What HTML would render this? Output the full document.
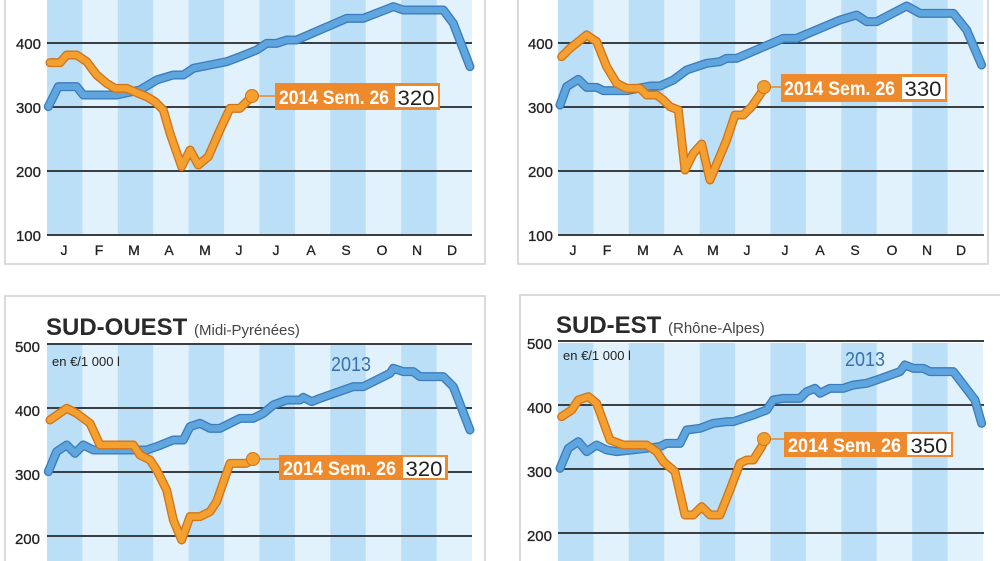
<!DOCTYPE html>
<html><head><meta charset="utf-8"><style>
html,body{margin:0;padding:0;background:#fff;width:1000px;height:561px;overflow:hidden}
svg{display:block}
text{font-family:"Liberation Sans",sans-serif}
.cond{font-family:"Liberation Sans Narrow","Liberation Sans",sans-serif;font-weight:bold}
</style></head><body>
<svg width="1000" height="561" viewBox="0 0 1000 561" xmlns="http://www.w3.org/2000/svg">
<defs>
<g id="stripesTop">
<rect x="0" y="0" width="425" height="235" fill="#e2f2fc"/>
<rect x="0" y="0" width="35.4" height="235" fill="#badff6"/>
<rect x="70.8" y="0" width="35.4" height="235" fill="#badff6"/>
<rect x="141.7" y="0" width="35.4" height="235" fill="#badff6"/>
<rect x="212.5" y="0" width="35.4" height="235" fill="#badff6"/>
<rect x="283.3" y="0" width="35.4" height="235" fill="#badff6"/>
<rect x="354.2" y="0" width="35.4" height="235" fill="#badff6"/>
</g>
<g id="stripesBot">
<rect x="0" y="0" width="425" height="220" fill="#e2f2fc"/>
<rect x="0" y="0" width="35.4" height="220" fill="#badff6"/>
<rect x="70.8" y="0" width="35.4" height="220" fill="#badff6"/>
<rect x="141.7" y="0" width="35.4" height="220" fill="#badff6"/>
<rect x="212.5" y="0" width="35.4" height="220" fill="#badff6"/>
<rect x="283.3" y="0" width="35.4" height="220" fill="#badff6"/>
<rect x="354.2" y="0" width="35.4" height="220" fill="#badff6"/>
</g>
</defs>

<rect x="5" y="-5" width="480" height="269" fill="#fff" stroke="#cfcfcf" stroke-width="1.5"/>
<rect x="518" y="-5" width="470" height="269" fill="#fff" stroke="#cfcfcf" stroke-width="1.5"/>
<rect x="5" y="296" width="480" height="280" fill="#fff" stroke="#cfcfcf" stroke-width="1.5"/>
<rect x="520" y="295" width="490" height="280" fill="#fff" stroke="#cfcfcf" stroke-width="1.5"/>

<use href="#stripesTop" x="47" y="0"/>
<use href="#stripesTop" x="558" y="0"/>
<use href="#stripesBot" x="47" y="343"/>
<use href="#stripesBot" x="558" y="343"/>

<g stroke="#3a3f44" stroke-width="2">
<line x1="47" x2="472" y1="43" y2="43"/><line x1="47" x2="472" y1="107" y2="107"/><line x1="47" x2="472" y1="171" y2="171"/><line x1="47" x2="472" y1="235" y2="235"/>
<line x1="558" x2="984" y1="43" y2="43"/><line x1="558" x2="984" y1="107" y2="107"/><line x1="558" x2="984" y1="171" y2="171"/><line x1="558" x2="984" y1="235" y2="235"/>
<line x1="47" x2="472" y1="344" y2="344"/><line x1="47" x2="472" y1="408" y2="408"/><line x1="47" x2="472" y1="472" y2="472"/><line x1="47" x2="472" y1="536" y2="536"/>
<line x1="558" x2="984" y1="341" y2="341"/><line x1="558" x2="984" y1="405" y2="405"/><line x1="558" x2="984" y1="469" y2="469"/><line x1="558" x2="984" y1="533" y2="533"/>
</g>

<g font-size="15" fill="#222" text-anchor="end" stroke="#222" stroke-width="0.3">
<text x="41" y="49">400</text><text x="41" y="113">300</text><text x="41" y="177">200</text><text x="41" y="241">100</text>
<text x="553" y="49">400</text><text x="553" y="113">300</text><text x="553" y="177">200</text><text x="553" y="241">100</text>
<text x="40" y="352">500</text><text x="40" y="416">400</text><text x="40" y="480">300</text><text x="40" y="544">200</text>
<text x="552" y="349">500</text><text x="552" y="413">400</text><text x="552" y="477">300</text><text x="552" y="541">200</text>
</g>

<g font-size="14" fill="#222" text-anchor="middle" stroke="#222" stroke-width="0.3">
<text x="64" y="255">J</text><text x="99" y="255">F</text><text x="134" y="255">M</text><text x="169" y="255">A</text><text x="205" y="255">M</text><text x="239" y="255">J</text><text x="276" y="255">J</text><text x="311" y="255">A</text><text x="346" y="255">S</text><text x="382" y="255">O</text><text x="417" y="255">N</text><text x="452" y="255">D</text>
<text x="573" y="255">J</text><text x="607" y="255">F</text><text x="643" y="255">M</text><text x="678" y="255">A</text><text x="713" y="255">M</text><text x="747" y="255">J</text><text x="785" y="255">J</text><text x="820" y="255">A</text><text x="855" y="255">S</text><text x="892" y="255">O</text><text x="927" y="255">N</text><text x="961" y="255">D</text>
</g>

<text x="46" y="335" font-size="24" font-weight="bold" fill="#2a2a2a">SUD-OUEST <tspan font-size="15" font-weight="normal" fill="#444">(Midi-Pyrénées)</tspan></text>
<text x="556" y="333" font-size="24" font-weight="bold" fill="#2a2a2a">SUD-EST <tspan font-size="15" font-weight="normal" fill="#444">(Rhône-Alpes)</tspan></text>
<text x="52" y="366" font-size="13" fill="#222">en €/1 000 l</text>
<text x="563" y="360" font-size="13" fill="#222">en €/1 000 l</text>
<text x="331" y="371" font-size="20" fill="#3a6fae" textLength="40" lengthAdjust="spacingAndGlyphs">2013</text>
<text x="845" y="366" font-size="20" fill="#3a6fae" textLength="40" lengthAdjust="spacingAndGlyphs">2013</text>

<g fill="none" stroke-linejoin="round" stroke-linecap="round">
<g transform="translate(0,0) scale(0.3333)">
<polyline stroke="#3c7cbc" stroke-width="27" points="145,320 175,260 230,260 250,285 350,285 420,270 470,240 520,225 550,225 580,205 630,195 680,185 720,170 770,150 800,130 830,130 860,120 890,120 1040,55 1090,55 1180,20 1210,30 1330,30 1360,70 1410,200"/>
<polyline stroke="#5fa5de" stroke-width="19" points="145,320 175,260 230,260 250,285 350,285 420,270 470,240 520,225 550,225 580,205 630,195 680,185 720,170 770,150 800,130 830,130 860,120 890,120 1040,55 1090,55 1180,20 1210,30 1330,30 1360,70 1410,200"/>
<polyline stroke="#d27318" stroke-width="27" points="150,188 180,188 200,165 230,165 260,185 290,225 320,250 345,265 380,265 410,278 440,290 465,305 490,330 510,400 545,500 570,450 595,495 625,470 660,390 690,325 720,325 755,290"/>
<polyline stroke="#f4a030" stroke-width="19" points="150,188 180,188 200,165 230,165 260,185 290,225 320,250 345,265 380,265 410,278 440,290 465,305 490,330 510,400 545,500 570,450 595,495 625,470 660,390 690,325 720,325 755,290"/>
</g>
<g transform="translate(500,0) scale(0.3333)">
<polyline stroke="#3c7cbc" stroke-width="27" points="180,315 200,260 235,238 260,262 290,262 310,272 380,272 450,258 480,258 520,240 560,210 620,190 660,185 680,175 710,175 780,145 850,115 890,115 1020,60 1070,45 1100,65 1130,65 1220,18 1260,40 1360,40 1400,90 1445,195"/>
<polyline stroke="#5fa5de" stroke-width="19" points="180,315 200,260 235,238 260,262 290,262 310,272 380,272 450,258 480,258 520,240 560,210 620,190 660,185 680,175 710,175 780,145 850,115 890,115 1020,60 1070,45 1100,65 1130,65 1220,18 1260,40 1360,40 1400,90 1445,195"/>
<polyline stroke="#d27318" stroke-width="27" points="185,170 210,145 260,105 290,125 320,200 350,250 380,265 420,265 440,285 470,285 490,300 510,320 535,330 555,510 580,460 605,432 630,540 680,420 705,345 730,345 755,320 795,262"/>
<polyline stroke="#f4a030" stroke-width="19" points="185,170 210,145 260,105 290,125 320,200 350,250 380,265 420,265 440,285 470,285 490,300 510,320 535,330 555,510 580,460 605,432 630,540 680,420 705,345 730,345 755,320 795,262"/>
</g>
<g transform="translate(0,280) scale(0.3333)">
<polyline stroke="#3c7cbc" stroke-width="27" points="145,575 170,515 200,495 225,520 250,495 280,510 440,510 470,500 520,480 550,480 570,440 600,430 630,445 660,445 720,415 760,415 790,400 820,375 860,360 900,360 910,352 935,365 960,355 1060,320 1090,320 1170,280 1180,265 1210,275 1240,275 1260,290 1330,290 1360,320 1410,450"/>
<polyline stroke="#5fa5de" stroke-width="19" points="145,575 170,515 200,495 225,520 250,495 280,510 440,510 470,500 520,480 550,480 570,440 600,430 630,445 660,445 720,415 760,415 790,400 820,375 860,360 900,360 910,352 935,365 960,355 1060,320 1090,320 1170,280 1180,265 1210,275 1240,275 1260,290 1330,290 1360,320 1410,450"/>
<polyline stroke="#d27318" stroke-width="27" points="150,420 200,385 230,400 270,430 300,495 400,495 420,525 450,540 470,570 500,630 520,720 545,780 570,710 600,710 630,695 650,665 690,550 740,550 760,535"/>
<polyline stroke="#f4a030" stroke-width="19" points="150,420 200,385 230,400 270,430 300,495 400,495 420,525 450,540 470,570 500,630 520,720 545,780 570,710 600,710 630,695 650,665 690,550 740,550 760,535"/>
</g>
<g transform="translate(500,280) scale(0.3333)">
<polyline stroke="#3c7cbc" stroke-width="27" points="180,565 205,505 235,485 260,515 290,495 320,510 350,515 440,505 480,500 500,490 540,490 560,450 600,445 640,430 680,425 700,425 760,405 800,390 820,360 850,355 900,355 920,335 945,325 960,340 990,325 1030,325 1060,315 1100,310 1130,300 1200,275 1215,255 1240,265 1270,265 1290,275 1360,275 1410,340 1425,360 1445,430"/>
<polyline stroke="#5fa5de" stroke-width="19" points="180,565 205,505 235,485 260,515 290,495 320,510 350,515 440,505 480,500 500,490 540,490 560,450 600,445 640,430 680,425 700,425 760,405 800,390 820,360 850,355 900,355 920,335 945,325 960,340 990,325 1030,325 1060,315 1100,310 1130,300 1200,275 1215,255 1240,265 1270,265 1290,275 1360,275 1410,340 1425,360 1445,430"/>
<polyline stroke="#d27318" stroke-width="27" points="185,410 215,390 235,360 265,350 290,370 330,480 370,495 440,495 470,515 490,545 525,575 555,705 580,705 605,680 630,705 660,705 690,630 720,550 740,540 760,540 785,500 795,478"/>
<polyline stroke="#f4a030" stroke-width="19" points="185,410 215,390 235,360 265,350 290,370 330,480 370,495 440,495 470,515 490,545 525,575 555,705 580,705 605,680 630,705 660,705 690,630 720,550 740,540 760,540 785,500 795,478"/>
</g>
</g>

<g>
<line x1="252" y1="96" x2="276" y2="96" stroke="#e8892a" stroke-width="1.5"/>
<circle cx="252" cy="96" r="6.5" fill="#f4a030" stroke="#d27318" stroke-width="1"/>
<rect x="275" y="83" width="165" height="27" fill="#ee8a2b"/>
<rect x="395" y="86" width="43" height="21" fill="#fff"/>
<text x="279" y="104" class="cond" font-size="19" fill="#fff" textLength="110" lengthAdjust="spacingAndGlyphs">2014  Sem. 26</text>
<text x="416" y="105" font-size="21" fill="#222" text-anchor="middle" textLength="37" lengthAdjust="spacingAndGlyphs">320</text>

<line x1="764" y1="87" x2="782" y2="87" stroke="#e8892a" stroke-width="1.5"/>
<circle cx="764" cy="87" r="6.5" fill="#f4a030" stroke="#d27318" stroke-width="1"/>
<rect x="781" y="74" width="166" height="28" fill="#ee8a2b"/>
<rect x="902" y="77" width="43" height="22" fill="#fff"/>
<text x="784" y="95" class="cond" font-size="19" fill="#fff" textLength="111" lengthAdjust="spacingAndGlyphs">2014  Sem. 26</text>
<text x="923" y="96" font-size="21" fill="#222" text-anchor="middle" textLength="37" lengthAdjust="spacingAndGlyphs">330</text>

<line x1="253" y1="459" x2="280" y2="459" stroke="#e8892a" stroke-width="1.5"/>
<circle cx="253" cy="459" r="6.5" fill="#f4a030" stroke="#d27318" stroke-width="1"/>
<rect x="279" y="455" width="169" height="25" fill="#ee8a2b"/>
<rect x="403" y="457" width="42" height="21" fill="#fff"/>
<text x="283" y="475" class="cond" font-size="19" fill="#fff" textLength="113" lengthAdjust="spacingAndGlyphs">2014  Sem. 26</text>
<text x="424" y="476" font-size="21" fill="#222" text-anchor="middle" textLength="37" lengthAdjust="spacingAndGlyphs">320</text>

<line x1="764" y1="439" x2="785" y2="439" stroke="#e8892a" stroke-width="1.5"/>
<circle cx="764" cy="439" r="6.5" fill="#f4a030" stroke="#d27318" stroke-width="1"/>
<rect x="784" y="432" width="169" height="25" fill="#ee8a2b"/>
<rect x="907" y="434" width="44" height="21" fill="#fff"/>
<text x="788" y="452" class="cond" font-size="19" fill="#fff" textLength="113" lengthAdjust="spacingAndGlyphs">2014  Sem. 26</text>
<text x="929" y="453" font-size="21" fill="#222" text-anchor="middle" textLength="37" lengthAdjust="spacingAndGlyphs">350</text>
</g>
</svg>
</body></html>
